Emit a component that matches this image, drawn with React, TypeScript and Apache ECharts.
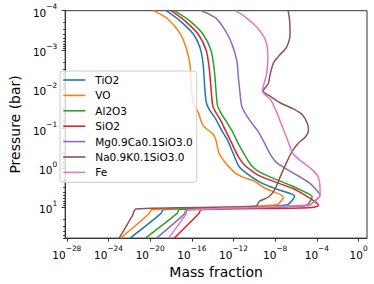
import { useEffect, useRef } from 'react';
import * as echarts from 'echarts';

// Each point: [log10(mass fraction), log10(pressure / bar)]
const seriesNames = ['TiO2', 'VO', 'Al2O3', 'SiO2', 'Mg0.9Ca0.1SiO3.0', 'Na0.9K0.1SiO3.0', 'Fe'];
const colors = ['#1f77b4', '#ff7f0e', '#2ca02c', '#d62728', '#9467bd', '#8c564b', '#e377c2'];

const tio2 = [
  [-18.46, -4], [-17.08, -3.73], [-15.84, -3.4], [-15.23, -3.07], [-14.92, -2.65], [-14.77, -2.07],
  [-14.61, -1.66], [-14.31, -1.48], [-13.69, -1.24], [-13.13, -0.95], [-12.58, -0.71], [-12.03, -0.37],
  [-11.47, -0.04], [-10.61, 0.16], [-9.38, 0.37], [-7.84, 0.54], [-6.14, 0.71], [-6.92, 0.94],
  [-18.77, 1.06], [-18.95, 1.15], [-21.93, 1.78],
];
const vo = [
  [-19.69, -4], [-18.3, -3.79], [-17.08, -3.4], [-16.46, -2.98], [-16.15, -2.57], [-16.06, -2.07],
  [-15.84, -1.66], [-15.38, -1.41], [-14.92, -1.08], [-13.99, -0.87], [-13.69, -0.71], [-13.38, -0.37],
  [-12.76, -0.13], [-11.84, 0.12], [-10.92, 0.25], [-9.99, 0.33], [-9.07, 0.5], [-7.22, 0.74],
  [-7.84, 0.93], [-19.85, 1.06], [-20.11, 1.16], [-22.83, 1.78],
];
const al2o3 = [
  [-17.69, -4], [-16.15, -3.73], [-14.92, -3.4], [-14.15, -2.98], [-13.84, -2.48], [-13.69, -1.99],
  [-13.53, -1.58], [-13.23, -1.41], [-12.76, -1.21], [-12.15, -0.95], [-11.54, -0.62], [-10.92, -0.33],
  [-10.3, -0.07], [-9.69, 0.07], [-8.45, 0.23], [-6.61, 0.43], [-5.38, 0.58], [-4.45, 0.73],
  [-5.07, 0.95], [-17.22, 1.05], [-17.41, 1.15], [-20.46, 1.78],
];
const sio2 = [
  [-18.0, -4], [-16.61, -3.73], [-15.38, -3.4], [-14.61, -2.98], [-14.31, -2.48], [-14.15, -1.99],
  [-13.99, -1.58], [-13.69, -1.41], [-13.23, -1.21], [-12.76, -0.95], [-12.15, -0.62], [-11.54, -0.29],
  [-10.92, -0.07], [-9.99, 0.12], [-9.38, 0.21], [-7.84, 0.37], [-6.3, 0.52], [-5.07, 0.7],
  [-4.15, 0.86], [-3.84, 0.95], [-4.76, 1.01], [-15.14, 1.06], [-15.3, 1.15], [-17.69, 1.78],
];
const mgSiO3 = [
  [-15.07, -4], [-13.69, -3.81], [-12.76, -3.48], [-12.15, -3.15], [-11.68, -2.73], [-11.54, -2.32],
  [-11.38, -1.91], [-11.22, -1.58], [-10.92, -1.41], [-10.3, -1.16], [-9.69, -0.95], [-9.07, -0.66],
  [-8.45, -0.34], [-7.84, -0.13], [-6.3, 0.12], [-4.76, 0.37], [-3.84, 0.62], [-3.69, 0.7],
  [-4.3, 0.85], [-4.76, 0.95], [-16.55, 1.07], [-16.73, 1.17], [-19.39, 1.78],
];
const naSiO3 = [
  [-6.76, -4], [-6.61, -3.73], [-6.58, -3.4], [-6.92, -3.07], [-7.59, -2.87], [-8.15, -2.68],
  [-8.47, -2.4], [-8.66, -2.15], [-9.16, -1.96], [-8.45, -1.82], [-7.53, -1.66], [-6.3, -1.51],
  [-5.38, -1.35], [-4.92, -1.14], [-4.8, -0.96], [-5.1, -0.79], [-5.68, -0.66], [-6.39, -0.42],
  [-6.95, -0.12], [-7.5, 0.21], [-7.99, 0.52], [-8.61, 0.73], [-9.53, 0.85], [-9.84, 0.97],
  [-21.38, 1.04], [-21.69, 1.2], [-22.98, 1.78],
];
const fe = [
  [-11.84, -4], [-10.92, -3.85], [-9.69, -3.56], [-8.91, -3.23], [-8.7, -2.82], [-8.82, -2.4],
  [-9.23, -1.95], [-8.45, -1.74], [-7.84, -1.41], [-7.41, -1.11], [-6.92, -0.79], [-6.3, -0.37],
  [-5.38, -0.15], [-4.45, 0.04], [-3.84, 0.25], [-3.69, 0.62], [-3.78, 0.74], [-4.76, 0.93],
  [-16.46, 1.07], [-16.55, 1.17], [-18.24, 1.78],
];
const allData = [tio2, vo, al2o3, sio2, mgSiO3, naSiO3, fe];

const xTicks = [-28, -24, -20, -16, -12, -8, -4, 0];
const yTicks = [-4, -3, -2, -1, 0, 1];
const xMin = -28.16;
const xMax = 0.81;
const yMin = -4;
const yMax = 1.78;

const FONT = 'DejaVu Sans';

const yMinorTicks: number[] = [];
for (let n = -4; n <= 1; n++) {
  for (let k = 2; k <= 9; k++) {
    const v = n + Math.log10(k);
    if (v <= yMax) yMinorTicks.push(v);
  }
}

const expFormatter = (v: number) => {
  const r = Math.round(v);
  const s = r < 0 ? '\u2212' + Math.abs(r) : String(r);
  return `{b|10}{s|${s}}`;
};
const rich = {
  b: { fontFamily: FONT, fontSize: 10.5, lineHeight: 15, verticalAlign: 'bottom', color: '#000' },
  s: { fontFamily: FONT, fontSize: 7.4, lineHeight: 9, verticalAlign: 'top', color: '#000' },
};

export default function App() {
  const ref = useRef<HTMLDivElement>(null);
  useEffect(() => {
    document.body.style.margin = '0';
    if (!ref.current) return;
    const chart = echarts.init(ref.current, null, { renderer: 'svg' });
    chart.setOption({
      animation: false,
      backgroundColor: '#ffffff',
      textStyle: { fontFamily: FONT },
      grid: {
        left: 53.3, right: 7, top: 10.7, bottom: 40.7,
        show: true, borderColor: '#333', borderWidth: 1, backgroundColor: 'transparent',
      },
      legend: {
        data: seriesNames,
        orient: 'vertical',
        left: 60, top: 71,
        icon: 'rect',
        itemWidth: 22, itemHeight: 1.6, itemGap: 4.4,
        padding: [3.5, 4, 4.4, 3.3],
        backgroundColor: 'rgba(255,255,255,0.8)',
        borderColor: '#cccccc', borderWidth: 1, borderRadius: 3,
        textStyle: { fontFamily: FONT, fontSize: 10.5, lineHeight: 11, color: '#000', padding: [0, 0, 0, 5] },
      },
      xAxis: {
        type: 'value', min: xMin, max: xMax,
        name: 'Mass fraction', nameLocation: 'middle', nameGap: 18,
        nameTextStyle: { fontFamily: FONT, fontSize: 14, color: '#000' },
        axisLine: { show: true, onZero: false, lineStyle: { color: '#333', width: 1 } },
        axisTick: { show: true, customValues: xTicks, length: 3.5, lineStyle: { color: '#333' } },
        axisLabel: { customValues: xTicks, formatter: expFormatter, rich, margin: 7 },
        splitLine: { show: false },
      },
      yAxis: [
        {
          type: 'value', min: yMin, max: yMax, inverse: true,
          name: 'Pressure (bar)', nameLocation: 'middle', nameGap: 35, nameRotate: 90,
          nameTextStyle: { fontFamily: FONT, fontSize: 14, color: '#000' },
          axisLine: { show: true, onZero: false, lineStyle: { color: '#333', width: 1 } },
          axisTick: { show: true, customValues: yTicks, length: 3.5, lineStyle: { color: '#333' } },
          axisLabel: { customValues: yTicks, formatter: expFormatter, rich, margin: 8 },
          splitLine: { show: false },
        },
        {
          type: 'value', min: yMin, max: yMax, inverse: true, position: 'left',
          axisLine: { show: false, onZero: false },
          axisTick: { show: true, customValues: yMinorTicks, length: 2, lineStyle: { color: '#333' } },
          axisLabel: { show: false },
          splitLine: { show: false },
        },
      ],
      series: allData.map((d, i) => ({
        name: seriesNames[i],
        type: 'line',
        data: d,
        symbol: 'none',
        showSymbol: false,
        smooth: 0.25,
        color: colors[i],
        lineStyle: { color: colors[i], width: 1.5 },
        yAxisIndex: 0,
        clip: true,
      })),
    });
    return () => chart.dispose();
  }, []);
  return <div ref={ref} style={{ width: 374, height: 284 }} />;
}
